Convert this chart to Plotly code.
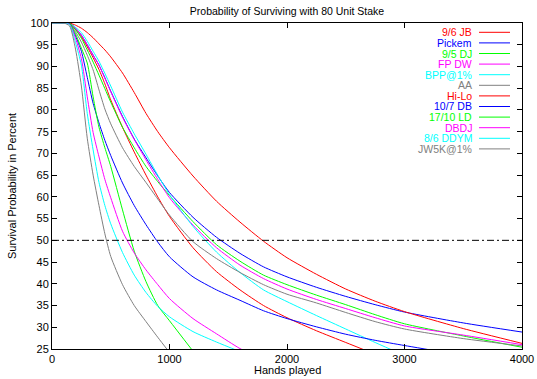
import plotly.graph_objects as go

# ---- data ----
hands = [0, 100, 150, 200, 250, 300, 350, 400, 450, 500, 600, 700, 800, 900,
         1000, 1200, 1400, 1600, 1800, 2000, 2250, 2500, 2750, 3000, 3500, 4000]

N = None
jb_96   = [100, 100, 100, 98.5, 96.8, 94.5, 92.0, 89.3, 86.0, 82.3, 76.0, 70.3, 65.0, 60.0,
           55.5, 48.3, 42.8, 38.6, 35.0, 32.2, 29.2, 26.5, 23.8, N, N, N]
pickem  = [100, 100, 100, 98.8, 97.2, 95.0, 92.6, 90.3, 87.4, 84.3, 78.5, 73.3, 69.0, 64.8,
           61.0, 55.3, 50.7, 47.0, 43.9, 41.6, 39.2, 37.1, 35.2, 33.5, 31.0, 28.9]
dj_95   = [100, 100, 100, 98.5, 96.5, 93.8, 91.0, 88.0, 84.9, 81.8, 76.0, 71.3, 67.0, 63.5,
           60.3, 54.3, 49.0, 45.2, 42.0, 39.8, 37.4, 35.2, 32.9, 30.8, 28.0, 25.4]
fp_dw   = [100, 100, 100, 98.8, 97.2, 95.0, 92.6, 90.3, 87.3, 84.2, 78.3, 73.2, 68.5, 64.0,
           59.8, 53.5, 48.3, 44.3, 41.2, 38.8, 36.4, 34.3, 32.2, 30.3, 28.2, 26.0]
bpp     = [100, 100, 100, 99.0, 97.8, 95.8, 93.5, 91.2, 88.4, 85.5, 79.5, 74.5, 69.8, 65.0,
           60.5, 53.2, 47.3, 42.6, 38.6, 35.9, 32.7, 29.6, 26.5, 23.5, N, N]
aa      = [100, 100, 100, 98.0, 95.6, 92.6, 89.2, 84.6, 80.2, 76.8, 71.3, 67.0, 63.3, 59.5,
           55.8, 49.7, 45.8, 42.6, 39.8, 37.6, 35.6, 33.4, 31.3, 29.6, 27.4, 25.7]
hilo    = [100, 100, 100, 99.5, 98.8, 97.8, 96.6, 95.2, 93.8, 92.2, 88.5, 84.0, 79.2, 75.0,
           71.3, 64.8, 59.0, 54.2, 49.8, 46.0, 42.2, 38.8, 36.0, 33.6, 29.7, 26.3]
db_107  = [100, 100, 99.8, 97.0, 93.5, 87.5, 81.5, 77.0, 73.0, 69.5, 63.2, 58.0, 53.6, 49.6,
           46.2, 41.6, 38.6, 36.2, 33.8, 32.0, 30.1, 28.4, 27.0, 25.8, 23.5, N]
ld_1710 = [100, 100, 100, 97.5, 94.2, 90.8, 83.0, 76.0, 71.3, 67.0, 57.0, 47.5, 40.5, 35.0,
           31.5, 24.5, N, N, N, N, N, N, N, N, N, N]
dbdj    = [100, 100, 99.7, 96.5, 91.8, 83.0, 74.8, 69.2, 64.0, 59.8, 52.1, 47.1, 43.2, 39.8,
           36.6, 32.0, 28.5, 25.1, 22.5, N, N, N, N, N, N, N]
ddym    = [100, 100, 99.6, 95.5, 90.3, 79.2, 70.8, 63.3, 58.0, 53.8, 47.2, 42.0, 38.0, 34.8,
           32.4, 29.0, 26.6, 24.4, N, N, N, N, N, N, N, N]
jw5k    = [100, 100, 99.3, 94.0, 85.5, 73.5, 65.0, 58.0, 51.5, 46.3, 39.8, 35.0, 31.3, 27.7,
           24.2, N, N, N, N, N, N, N, N, N, N, N]

names = ["9/6 JB", "Pickem", "9/5 DJ", "FP DW", "BPP@1%", "AA",
         "Hi-Lo", "10/7 DB", "17/10 LD", "DBDJ", "8/6 DDYM", "JW5K@1%"]
series = [jb_96, pickem, dj_95, fp_dw, bpp, aa,
          hilo, db_107, ld_1710, dbdj, ddym, jw5k]
colors = ["#ff0000", "#0000ff", "#00ff00", "#ff00ff", "#00ffff", "#808080"] * 2

threshold = 50
x_ticks = [0, 1000, 2000, 3000, 4000]

# ---- figure ----
W, H = 537, 379
ml, mr, mt, mb = 52, 15, 23, 30
pw, ph = W - ml - mr, H - mt - mb

fig = go.Figure()
for name, ys, col in zip(names, series, colors):
    fig.add_trace(go.Scatter(x=hands, y=ys, mode="lines", name=name,
                             line=dict(color=col, width=1, shape="spline", smoothing=0.6),
                             showlegend=False, hoverinfo="skip"))

fig.add_trace(go.Scatter(x=[hands[0], hands[-1]], y=[threshold, threshold], mode="lines",
                         line=dict(color="black", width=1, dash="7px,3px,2px,3px"),
                         showlegend=False, hoverinfo="skip"))

font = "Liberation Sans, Arial, sans-serif"
annotations = []
shapes = []
for i, (name, col) in enumerate(zip(names, colors)):
    py = 32.3 + i * 10.6
    yp = (mt + ph - py) / ph
    annotations.append(dict(x=(474 - ml) / pw, y=yp, xref="paper", yref="paper",
                            text=name, showarrow=False, xanchor="right", yanchor="middle",
                            font=dict(family=font, size=10.5, color=col)))
    shapes.append(dict(type="line", xref="paper", yref="paper",
                       x0=(479 - ml) / pw, x1=(510 - ml) / pw, y0=yp, y1=yp,
                       line=dict(color=col, width=1)))

annotations.append(dict(x=0.5, y=(mt + ph - 370) / ph, xref="paper", yref="paper",
                        text="Hands played", showarrow=False, xanchor="center", yanchor="middle",
                        font=dict(family=font, size=11, color="black")))
annotations.append(dict(x=(12 - ml) / pw, y=0.5, xref="paper", yref="paper",
                        text="Survival Probability in Percent", showarrow=False, textangle=-90,
                        xanchor="center", yanchor="middle",
                        font=dict(family=font, size=11, color="black")))

fig.update_layout(
    width=W, height=H,
    margin=dict(l=ml, r=mr, t=mt, b=mb),
    paper_bgcolor="white", plot_bgcolor="white",
    title=dict(text="Probability of Surviving with 80 Unit Stake", x=0.5 * (ml * 2 + pw) / W,
               xanchor="center", y=1 - 11 / H, yanchor="middle",
               font=dict(family=font, size=10.5, color="black")),
    annotations=annotations, shapes=shapes,
    font=dict(family=font, size=11, color="black"),
)
fig.update_xaxes(range=[0, 4000], tickvals=x_ticks, ticks="inside", ticklen=5,
                 tickcolor="black", showline=True, linecolor="black", linewidth=1,
                 mirror="ticks", showgrid=False, zeroline=False, automargin=False,
                 tickfont=dict(family=font, size=11, color="black"))
fig.update_yaxes(range=[25, 100], dtick=5, tick0=25, ticks="inside", ticklen=5,
                 tickcolor="black", showline=True, linecolor="black", linewidth=1,
                 mirror="ticks", showgrid=False, zeroline=False, automargin=False,
                 tickfont=dict(family=font, size=11, color="black"))

fig.write_html("out.html", config={"displayModeBar": False},
               post_script="document.body.style.margin='0';document.body.style.overflow='hidden';")
